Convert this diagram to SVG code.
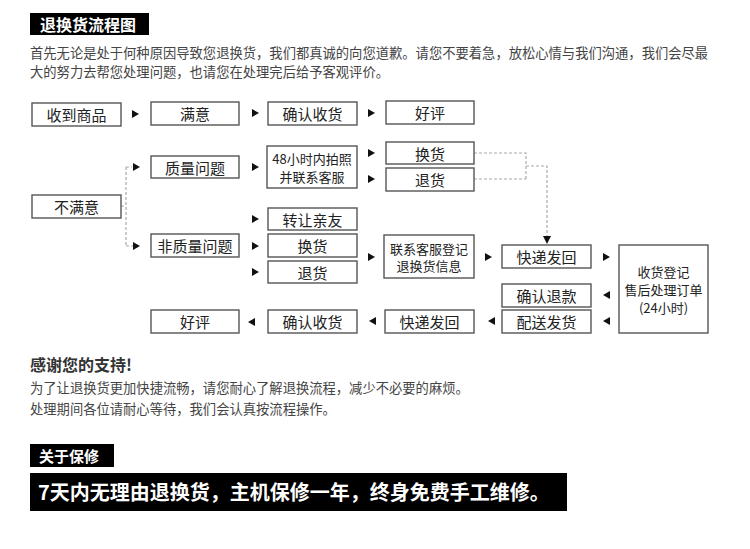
<svg xmlns="http://www.w3.org/2000/svg" width="750" height="549" viewBox="0 0 750 549">
<style>
  .t { font-family: "Noto Sans CJK SC", "Liberation Sans", sans-serif; }
  .box { fill: #fff; stroke: #555; stroke-width: 1.4; }
  .bt { font-family: "Noto Sans CJK SC", "Liberation Sans", sans-serif; font-size: 15px; fill: #222; text-anchor: middle; dominant-baseline: central; }
  .bs { font-family: "Noto Sans CJK SC", "Liberation Sans", sans-serif; font-size: 13px; fill: #222; text-anchor: middle; dominant-baseline: central; }
  .para { font-family: "Noto Sans CJK SC", "Liberation Sans", sans-serif; font-size: 13.3px; fill: #444; }
  .dash { fill: none; stroke: #aaa; stroke-width: 1.2; stroke-dasharray: 3 2; }
  .ah { fill: #111; }
</style>
<rect width="750" height="549" fill="#fff"/>

<g id="header">
  <rect x="30" y="13" width="119" height="22" fill="#000"/>
  <text x="40" y="31" class="t" font-size="16" font-weight="700" fill="#fff">退换货流程图</text>
  <text x="30" y="58" class="para">首先无论是处于何种原因导致您退换货，我们都真诚的向您道歉。请您不要着急，放松心情与我们沟通，我们会尽最</text>
  <text x="30" y="77" class="para">大的努力去帮您处理问题，也请您在处理完后给予客观评价。</text>
</g>

<g id="connectors">
  <path class="dash" d="M121,206 H126 M126,167 V246 M126,167 H132 M126,246 H133"/>
  <path class="dash" d="M474,153 H526 V179 M474,179 H526 M526,166 H547 V236"/>
  <g class="ah">
    <polygon points="132,110 139,114 132,118"/>
    <polygon points="252,109 259,113 252,117"/>
    <polygon points="368,109 375,113 368,117"/>
    <polygon points="133,163 140,167 133,171"/>
    <polygon points="133,242 140,246 133,250"/>
    <polygon points="252,163 259,167 252,171"/>
    <polygon points="252,215 259,219 252,223"/>
    <polygon points="252,242 259,246 252,250"/>
    <polygon points="252,268 259,272 252,276"/>
    <polygon points="368,149 375,153 368,157"/>
    <polygon points="368,175 375,179 368,183"/>
    <polygon points="368,253 375,257 368,261"/>
    <polygon points="485,253 492,257 485,261"/>
    <polygon points="603,253 610,257 603,261"/>
    <polygon points="610,291 603,295 610,299"/>
    <polygon points="610,317 603,321 610,325"/>
    <polygon points="495,317 488,321 495,325"/>
    <polygon points="376,317 369,321 376,325"/>
    <polygon points="255,318 248,322 255,326"/>
    <polygon points="543,236 551,236 547,244"/>
  </g>
</g>

<g id="n-receive"><rect class="box" x="32" y="103" width="89" height="23"/><text class="bt" x="76.5" y="114.5">收到商品</text></g>
<g id="n-satisfied"><rect class="box" x="151" y="102" width="88" height="23"/><text class="bt" x="195" y="113.5">满意</text></g>
<g id="n-confirm1"><rect class="box" x="268" y="102" width="89" height="23"/><text class="bt" x="312.5" y="113.5">确认收货</text></g>
<g id="n-good1"><rect class="box" x="386" y="101" width="88" height="23"/><text class="bt" x="430" y="112.5">好评</text></g>

<g id="n-quality"><rect class="box" x="151" y="156" width="88" height="22"/><text class="bt" x="195" y="167">质量问题</text></g>
<g id="n-photo"><rect class="box" x="267" y="146" width="90" height="42"/><text class="bs" x="312" y="158" font-size="13.5">48小时内拍照</text><text class="bs" x="312" y="176" font-size="13.5">并联系客服</text></g>
<g id="n-exchange-r"><rect class="box" x="386" y="142" width="88" height="22"/><text class="bt" x="430" y="153">换货</text></g>
<g id="n-return-r"><rect class="box" x="386" y="168" width="88" height="23"/><text class="bt" x="430" y="179.5">退货</text></g>

<g id="n-unsatisfied"><rect class="box" x="32" y="195" width="89" height="23"/><text class="bt" x="76.5" y="206.5">不满意</text></g>
<g id="n-transfer"><rect class="box" x="268" y="208" width="89" height="22"/><text class="bt" x="312.5" y="219">转让亲友</text></g>
<g id="n-nonquality"><rect class="box" x="151" y="234" width="88" height="23"/><text class="bt" x="195" y="245.5">非质量问题</text></g>
<g id="n-exchange-l"><rect class="box" x="268" y="234" width="89" height="23"/><text class="bt" x="312.5" y="245.5">换货</text></g>
<g id="n-return-l"><rect class="box" x="268" y="261" width="89" height="22"/><text class="bt" x="312.5" y="272">退货</text></g>

<g id="n-contact"><rect class="box" x="384" y="235" width="90" height="43"/><text class="bs" x="429" y="248">联系客服登记</text><text class="bs" x="429" y="265.5">退换货信息</text></g>
<g id="n-ship1"><rect class="box" x="502" y="245" width="89" height="23"/><text class="bt" x="546.5" y="256.5">快递发回</text></g>
<g id="n-register"><rect class="box" x="619" y="245" width="89" height="88"/><text class="bs" x="663.5" y="271" font-size="12.5">收货登记</text><text class="bs" x="663.5" y="289" font-size="12.5">售后处理订单</text><text class="bs" x="663.5" y="307" font-size="12.5">(24小时)</text></g>
<g id="n-refund"><rect class="box" x="502" y="284" width="89" height="23"/><text class="bt" x="546.5" y="295.5">确认退款</text></g>
<g id="n-deliver"><rect class="box" x="502" y="310" width="89" height="23"/><text class="bt" x="546.5" y="321.5">配送发货</text></g>
<g id="n-ship2"><rect class="box" x="385" y="310" width="89" height="23"/><text class="bt" x="429.5" y="321.5">快递发回</text></g>
<g id="n-confirm2"><rect class="box" x="268" y="310" width="89" height="23"/><text class="bt" x="312.5" y="321.5">确认收货</text></g>
<g id="n-good2"><rect class="box" x="151" y="310" width="88" height="23"/><text class="bt" x="195" y="321.5">好评</text></g>

<g id="footer">
  <text x="30" y="371" class="t" font-size="16" font-weight="700" fill="#333">感谢您的支持!</text>
  <text x="30" y="393" class="para">为了让退换货更加快捷流畅，请您耐心了解退换流程，减少不必要的麻烦。</text>
  <text x="30" y="414" class="para">处理期间各位请耐心等待，我们会认真按流程操作。</text>
  <rect x="30" y="444" width="84" height="23" fill="#000"/>
  <text x="39" y="462" class="t" font-size="15" font-weight="700" fill="#fff">关于保修</text>
  <rect x="30" y="473" width="537" height="38" fill="#000"/>
  <text x="38" y="500" class="t" font-size="20" font-weight="700" fill="#fff">7天内无理由退换货，主机保修一年，终身免费手工维修。</text>
</g>
</svg>
